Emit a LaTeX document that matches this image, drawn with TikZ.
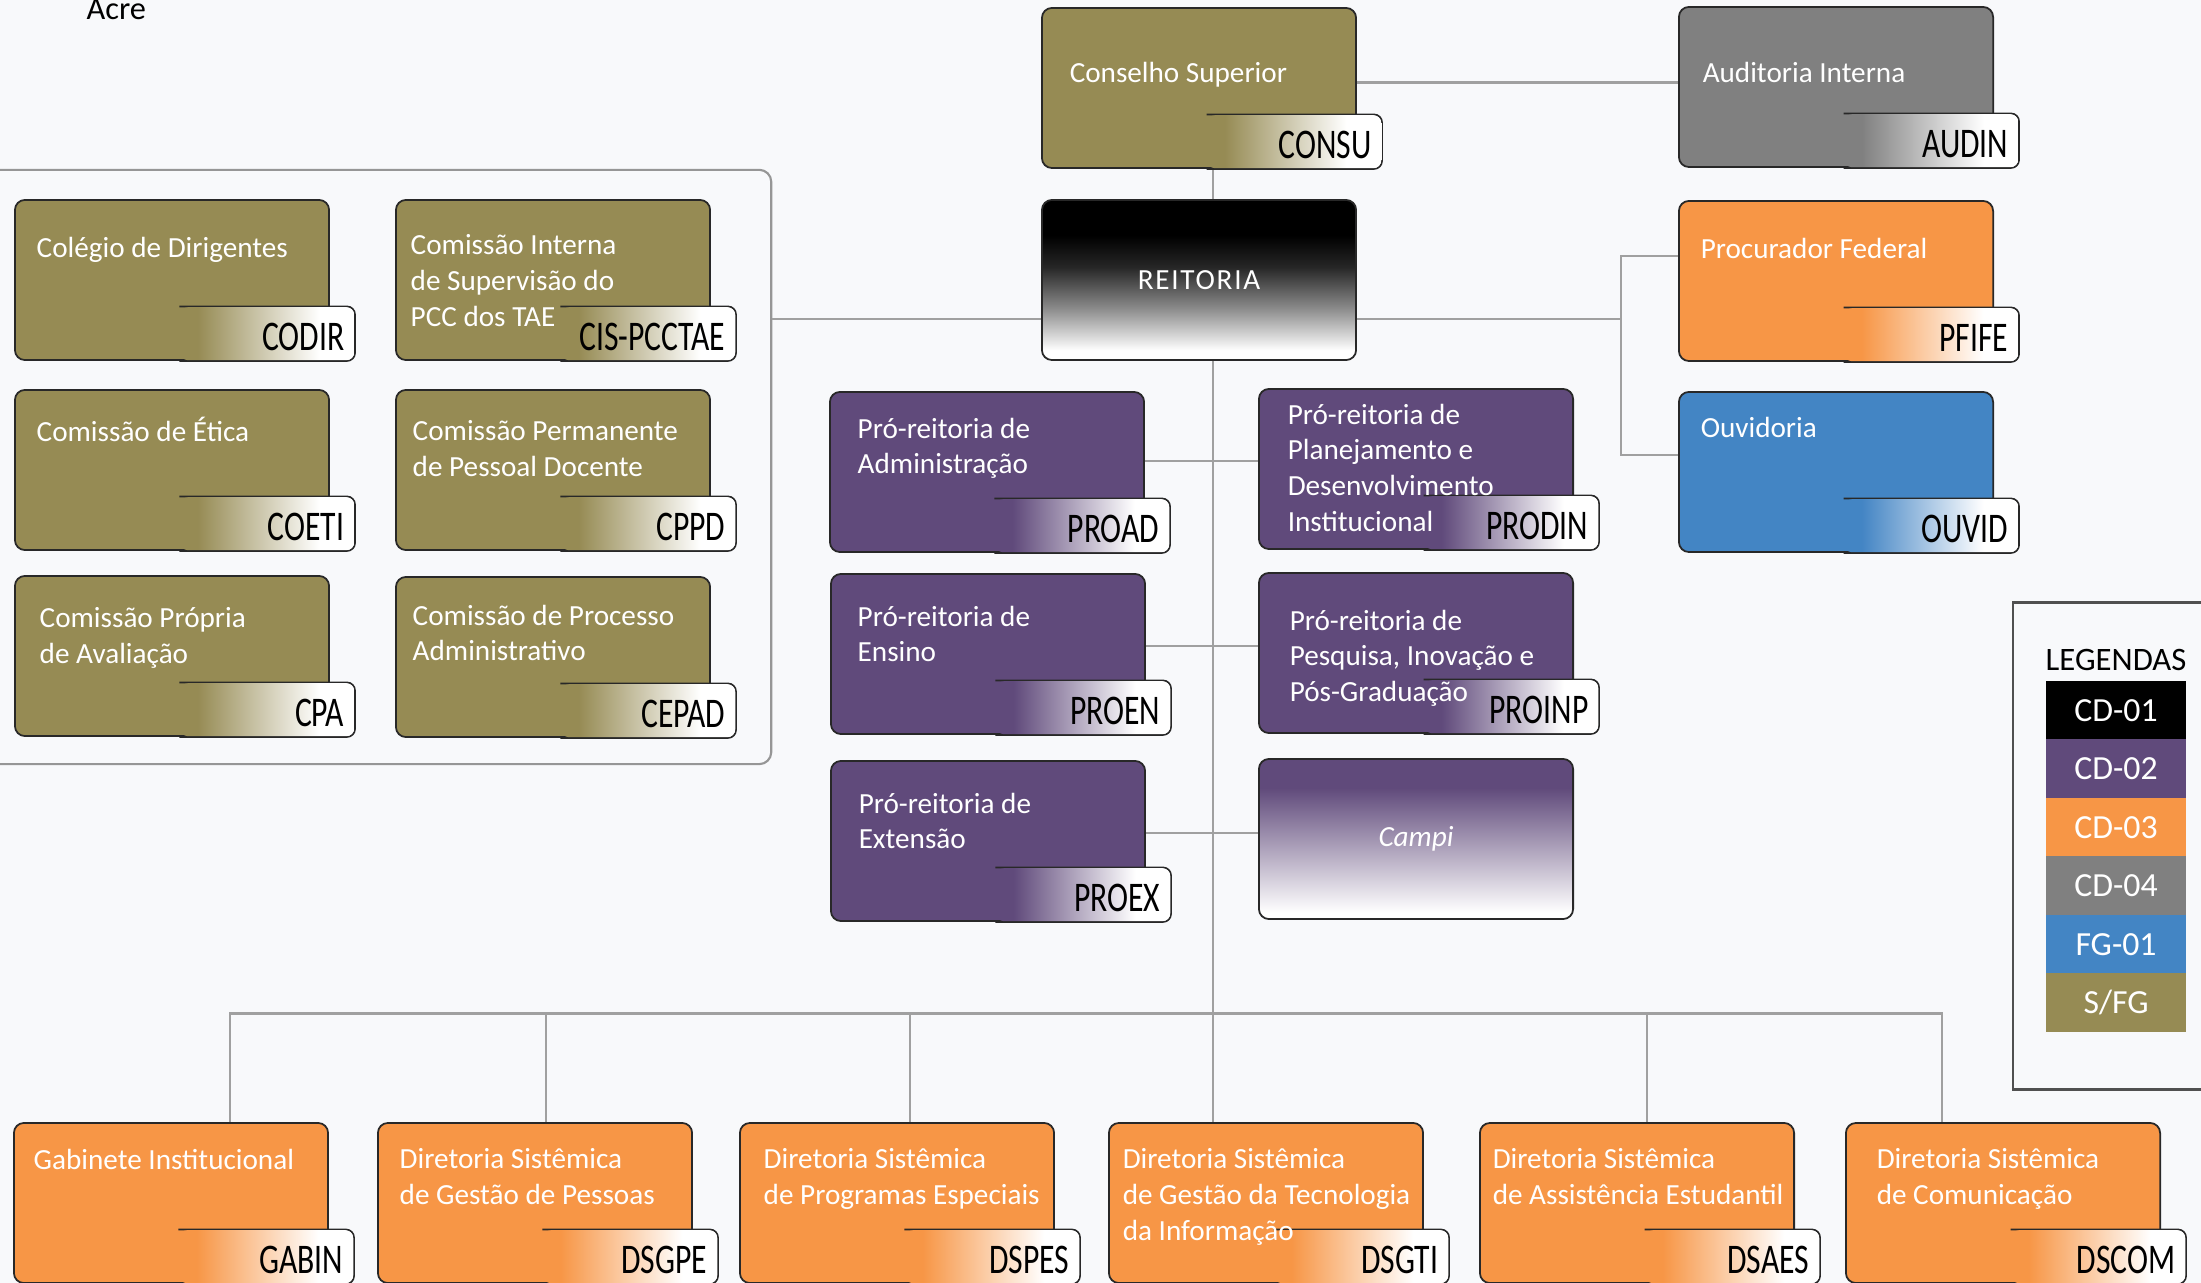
\documentclass[tikz,border=0pt]{standalone}
\usepackage{tikz}
\usepackage{xcolor}
\usepackage{fontspec}
\setmainfont{Carlito}
\newfontfamily\tagfont[FakeStretch=0.75]{Carlito}

\definecolor{bg}{RGB}{248,249,251}
\definecolor{oliv}{RGB}{150,139,84}
\definecolor{purp}{RGB}{96,74,123}
\definecolor{orng}{RGB}{247,150,70}
\definecolor{gry}{RGB}{128,128,128}
\definecolor{blu}{RGB}{67,133,196}
\definecolor{rim}{RGB}{40,40,40}
\definecolor{wire}{RGB}{160,160,160}
\definecolor{framecol}{RGB}{150,150,150}
\definecolor{legrim}{RGB}{80,80,80}
\colorlet{reitlow}{black!45}
\colorlet{reitmid}{black!85}

\pgfdeclarehorizontalshading{oliv-fade}{100bp}{color(0bp)=(oliv); color(30bp)=(oliv); color(65bp)=(white); color(100bp)=(white)}
\pgfdeclarehorizontalshading{gry-fade}{100bp}{color(0bp)=(gry); color(30bp)=(gry); color(65bp)=(white); color(100bp)=(white)}
\pgfdeclarehorizontalshading{orng-fade}{100bp}{color(0bp)=(orng); color(30bp)=(orng); color(65bp)=(white); color(100bp)=(white)}
\pgfdeclarehorizontalshading{blu-fade}{100bp}{color(0bp)=(blu); color(30bp)=(blu); color(65bp)=(white); color(100bp)=(white)}
\pgfdeclarehorizontalshading{purp-fade}{100bp}{color(0bp)=(purp); color(30bp)=(purp); color(65bp)=(white); color(100bp)=(white)}
\pgfdeclareverticalshading{reit-fade}{100bp}{color(0bp)=(white); color(28bp)=(white); color(41bp)=(reitlow); color(54bp)=(reitmid); color(64bp)=(black); color(100bp)=(black)}
\pgfdeclareverticalshading{campi-fade}{100bp}{color(0bp)=(white); color(27bp)=(white); color(66bp)=(purp); color(100bp)=(purp)}

\begin{document}
\begin{tikzpicture}[x=0.01cm, y=-0.01cm,
    box/.style={draw=rim, line width=0.5pt, rounded corners=0.1cm, minimum width=3.14cm, minimum height=1.6cm, fill=#1},
    box/.default=none,
    tag/.style={shade, shading=#1, rounded corners=0.08cm, anchor=south east, minimum width=1.74cm, minimum height=0.53cm,
        text width=1.54cm, inner xsep=0.1cm, inner ysep=0pt, text height=0.33cm, text depth=0pt, align=right,
        font=\tagfont\fontsize{12}{14}\selectfont,
        append after command={\pgfextra{\draw [rim, line width=0.5pt, rounded corners=0.08cm] (\tikzlastnode.north west) -- (\tikzlastnode.north east) -- (\tikzlastnode.south east) -- (\tikzlastnode.south west);}}},
    txt/.style={anchor=north west, inner sep=0pt, align=left, text=white, font=\fontsize{8.3}{10.2}\selectfont, execute at begin node=\strut},
    centertxt/.style={text=white, font=\fontsize{8.3}{10}\selectfont},
    link/.style={draw=wire, line width=0.6pt},
    swatch/.style={fill=#1, minimum width=1.4cm, minimum height=0.59cm, inner sep=0pt, text=white, font=\fontsize{9.6}{11}\selectfont}]

                        \useasboundingbox (0,0) rectangle (2201,1283);
                        \fill [bg] (0,0) rectangle (2201,1283);

                        \node (acre) at (86,20) [anchor=base west, inner sep=0pt, font=\fontsize{9.2}{11}\selectfont] {Acre};

                        \node (council) at (370,467) [draw=framecol, line width=0.6pt, rounded corners=0.12cm, minimum width=8.02cm, minimum height=5.94cm] {};

                        \node (consu) at (1199,88) [box=oliv] {};
                        \node (audin) at (1836,87) [box=gry] {};
                        \node (reitoria) at (1199,280) [box, shade, shading=reit-fade, centertxt] {\addfontfeature{LetterSpace=6}REITORIA};
                        \node (pfife) at (1836,281) [box=orng] {};
                        \node (ouvid) at (1836,472) [box=blu] {};
                        \node (proad) at (987,472) [box=purp] {};
                        \node (prodin) at (1416,469) [box=purp] {};
                        \node (proen) at (988,654) [box=purp] {};
                        \node (proinp) at (1416,653) [box=purp] {};
                        \node (proex) at (988,841) [box=purp] {};
                        \node (campi) at (1416,839) [box, shade, shading=campi-fade, centertxt] {\textit{Campi}};
                        \node (codir) at (172,280) [box=oliv] {};
                        \node (cis) at (553,280) [box=oliv] {};
                        \node (coeti) at (172,470) [box=oliv] {};
                        \node (cppd) at (553,470) [box=oliv] {};
                        \node (cpa) at (172,656) [box=oliv] {};
                        \node (cepad) at (553,657) [box=oliv] {};
                        \node (gabin) at (171,1203) [box=orng] {};
                        \node (dsgpe) at (535,1203) [box=orng] {};
                        \node (dspes) at (897,1203) [box=orng] {};
                        \node (dsgti) at (1266,1203) [box=orng] {};
                        \node (dsaes) at (1637,1203) [box=orng] {};
                        \node (dscom) at (2003,1203) [box=orng] {};

                        \coordinate (fork) at (1621,321);
                        \coordinate (hub) at (1213,1013.5);

                        \draw [link] (consu.2.7) -- (consu.2.7 -| audin.west);
                        \draw [link] (consu.-80.2) -- (consu.-80.2 |- reitoria.north);
                        \draw [link] (reitoria.194.6) -- (reitoria.194.6 -| council.east);
                        \draw [link] (reitoria.-14.6) -- (reitoria.-14.6 -| fork);
                        \draw [link] (pfife.171.6) -| (fork) |- (ouvid.174.8);
                        \draw [link] (reitoria.-80.2) -- (reitoria.-80.2 |- dsgti.north);
                        \draw [link] (gabin.54.1) |- (hub) -| (dscom.127.8);
                        \draw [link] (dsgpe.82.9) -- (dsgpe.82.9 |- hub) (dspes.81.5) -- (dspes.81.5 |- hub) (dsaes.83.9) -- (dsaes.83.9 |- hub);
                        \draw [link] (proad.4.7) -- (proad.4.7 -| prodin.west);
                        \draw [link] (proen.3) -- (proen.3 -| proinp.west);
                        \draw [link] (proex.3.1) -- (proex.3.1 -| campi.west);

                        \node (consu-tag) at ([xshift=0.25cm]consu.south east) [tag=oliv-fade] {CONSU};
                        \node (audin-tag) at ([xshift=0.25cm]audin.south east) [tag=gry-fade] {AUDIN};
                        \node (pfife-tag) at ([xshift=0.25cm]pfife.south east) [tag=orng-fade] {PFIFE};
                        \node (ouvid-tag) at ([xshift=0.25cm]ouvid.south east) [tag=blu-fade] {OUVID};
                        \node (proad-tag) at ([xshift=0.25cm]proad.south east) [tag=purp-fade] {PROAD};
                        \node (prodin-tag) at ([xshift=0.25cm]prodin.south east) [tag=purp-fade] {PRODIN};
                        \node (proen-tag) at ([xshift=0.25cm]proen.south east) [tag=purp-fade] {PROEN};
                        \node (proinp-tag) at ([xshift=0.25cm]proinp.south east) [tag=purp-fade] {PROINP};
                        \node (proex-tag) at ([xshift=0.25cm]proex.south east) [tag=purp-fade] {PROEX};
                        \node (codir-tag) at ([xshift=0.25cm]codir.south east) [tag=oliv-fade] {CODIR};
                        \node (cis-tag) at ([xshift=0.25cm]cis.south east) [tag=oliv-fade] {CIS-PCCTAE};
                        \node (coeti-tag) at ([xshift=0.25cm]coeti.south east) [tag=oliv-fade] {COETI};
                        \node (cppd-tag) at ([xshift=0.25cm]cppd.south east) [tag=oliv-fade] {CPPD};
                        \node (cpa-tag) at ([xshift=0.25cm]cpa.south east) [tag=oliv-fade] {CPA};
                        \node (cepad-tag) at ([xshift=0.25cm]cepad.south east) [tag=oliv-fade] {CEPAD};
                        \node (gabin-tag) at ([xshift=0.25cm]gabin.south east) [tag=orng-fade] {GABIN};
                        \node (dsgpe-tag) at ([xshift=0.25cm]dsgpe.south east) [tag=orng-fade] {DSGPE};
                        \node (dspes-tag) at ([xshift=0.25cm]dspes.south east) [tag=orng-fade] {DSPES};
                        \node (dsgti-tag) at ([xshift=0.25cm]dsgti.south east) [tag=orng-fade] {DSGTI};
                        \node (dsaes-tag) at ([xshift=0.25cm]dsaes.south east) [tag=orng-fade] {DSAES};
                        \node (dscom-tag) at ([xshift=0.25cm]dscom.south east) [tag=orng-fade] {DSCOM};

                        \node (consu-txt) at ([shift={(28,50)}]consu.north west) [txt] {Conselho Superior};
                        \node (audin-txt) at ([shift={(24,51)}]audin.north west) [txt] {Auditoria Interna};
                        \node (pfife-txt) at ([shift={(22,33)}]pfife.north west) [txt] {Procurador Federal};
                        \node (ouvid-txt) at ([shift={(22,21)}]ouvid.north west) [txt] {Ouvidoria};
                        \node (proad-txt) at ([shift={(28,26)}]proad.north west) [txt] {Pró-reitoria de\\Administração};
                        \node (prodin-txt) at ([shift={(29,15)}]prodin.north west) [txt] {Pró-reitoria de\\Planejamento e\\Desenvolvimento\\Institucional};
                        \node (proen-txt) at ([shift={(27,32)}]proen.north west) [txt] {Pró-reitoria de\\Ensino};
                        \node (proinp-txt) at ([shift={(31,37)}]proinp.north west) [txt] {Pró-reitoria de\\Pesquisa, Inovação e\\Pós-Graduação};
                        \node (proex-txt) at ([shift={(28,32)}]proex.north west) [txt] {Pró-reitoria de\\Extensão};
                        \node (codir-txt) at ([shift={(22,33)}]codir.north west) [txt] {Colégio de Dirigentes};
                        \node (cis-txt) at ([shift={(15,35)}]cis.north west) [txt] {Comissão Interna\\de Supervisão do\\PCC dos TAE};
                        \node (coeti-txt) at ([shift={(22,27)}]coeti.north west) [txt] {Comissão de Ética};
                        \node (cppd-txt) at ([shift={(17,31)}]cppd.north west) [txt] {Comissão Permanente\\de Pessoal Docente};
                        \node (cpa-txt) at ([shift={(25,32)}]cpa.north west) [txt] {Comissão Própria\\de Avaliação};
                        \node (cepad-txt) at ([shift={(17,28)}]cepad.north west) [txt] {Comissão de Processo\\Administrativo};
                        \node (gabin-txt) at ([shift={(20,22)}]gabin.north west) [txt] {Gabinete Institucional};
                        \node (dsgpe-txt) at ([shift={(22,26)}]dsgpe.north west) [txt] {Diretoria Sistêmica\\de Gestão de Pessoas};
                        \node (dspes-txt) at ([shift={(24,26)}]dspes.north west) [txt] {Diretoria Sistêmica\\de Programas Especiais};
                        \node (dsgti-txt) at ([shift={(14,26)}]dsgti.north west) [txt] {Diretoria Sistêmica\\de Gestão da Tecnologia\\da Informação};
                        \node (dsaes-txt) at ([shift={(13,26)}]dsaes.north west) [txt] {Diretoria Sistêmica\\de Assistência Estudantil};
                        \node (dscom-txt) at ([shift={(31,26)}]dscom.north west) [txt] {Diretoria Sistêmica\\de Comunicação};

                        \node (legend) at (2137,846) [draw=legrim, line width=0.8pt, minimum width=2.48cm, minimum height=4.86cm] {};
                        \node (legtitle) at (2116,660) [font=\fontsize{9.3}{11}\selectfont] {LEGENDAS};
                        \node (cd01) at (2116,710.5) [swatch=black] {CD-01};
                        \node (cd02) at (2116,769) [swatch=purp] {CD-02};
                        \node (cd03) at (2116,827.5) [swatch=orng] {CD-03};
                        \node (cd04) at (2116,886) [swatch=gry] {CD-04};
                        \node (fg01) at (2116,944.5) [swatch=blu] {FG-01};
                        \node (sfg) at (2116,1002.5) [swatch=oliv] {S/FG};

                    \end{tikzpicture}
\end{document}
